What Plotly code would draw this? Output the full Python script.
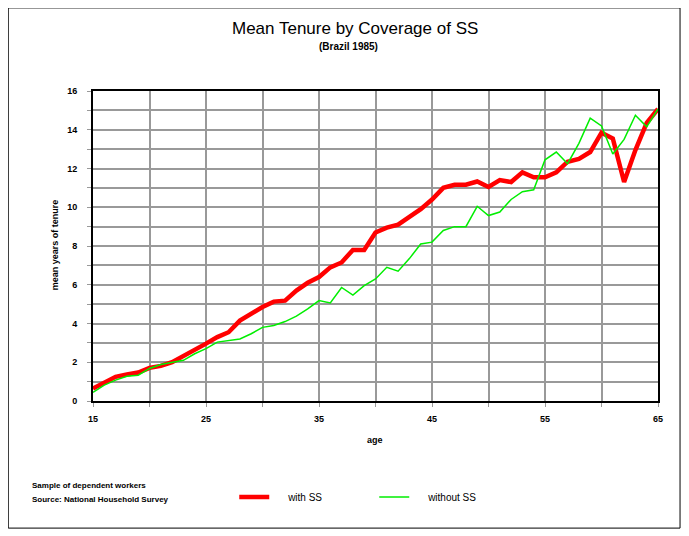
import plotly.graph_objects as go

ages = list(range(15, 66))
with_ss = [0.65, 0.96, 1.25, 1.37, 1.47, 1.71, 1.81, 2.0, 2.3, 2.6,
           2.96, 3.3, 3.55, 4.15, 4.5, 4.85, 5.13, 5.18, 5.7, 6.1,
           6.4, 6.9, 7.15, 7.8, 7.8, 8.7, 8.95, 9.1, 9.5, 9.9,
           10.4, 11.0, 11.16, 11.16, 11.33, 11.05, 11.4, 11.3, 11.8, 11.55,
           11.55, 11.8, 12.35, 12.5, 12.85, 13.85, 13.55, 11.3, 12.95, 14.35,
           15.07]
without_ss = [0.45, 0.82, 1.08, 1.28, 1.33, 1.68, 1.88, 1.98, 2.1, 2.44,
              2.7, 3.04, 3.13, 3.2, 3.47, 3.8, 3.9, 4.1, 4.38, 4.75,
              5.18, 5.06, 5.86, 5.47, 5.95, 6.3, 6.9, 6.7, 7.35, 8.1,
              8.2, 8.8, 9.0, 9.0, 10.05, 9.57, 9.75, 10.4, 10.8, 10.9,
              12.45, 12.85, 12.25, 13.3, 14.6, 14.2, 12.75, 13.5, 14.75, 14.15,
              15.07]

title_text = "Mean Tenure by Coverage of SS"
subtitle_text = "(Brazil 1985)"
x_title = "age"
y_title = "mean years of tenure"
note_lines = ["Sample of dependent workers", "Source: National Household Survey"]

FONT = "Liberation Sans, Arial, sans-serif"
NB = "\u00a0"

fig = go.Figure()
fig.add_trace(go.Scatter(x=ages, y=with_ss, mode="lines", name=NB * 5 + "with SS",
                         line=dict(color="#ff0000", width=4.5)))
fig.add_trace(go.Scatter(x=ages, y=without_ss, mode="lines", name=NB * 5 + "without SS",
                         line=dict(color="#00ee00", width=1.5)))

grid_col = "#999999"
fig.update_layout(
    width=689, height=536,
    margin=dict(l=85, r=39, t=83, b=143),
    paper_bgcolor="white", plot_bgcolor="white",
    font=dict(family=FONT, color="black"),
    showlegend=True,
    legend=dict(orientation="h", x=0.25, y=-0.31, xanchor="left", yanchor="middle",
                font=dict(size=10, family=FONT), entrywidth=95, entrywidthmode="pixels",
                bgcolor="rgba(0,0,0,0)"),
)

fig.update_xaxes(
    range=[15, 65], tick0=15, dtick=10,
    showgrid=True, gridcolor=grid_col, gridwidth=2,
    minor=dict(dtick=5, tick0=15, showgrid=True, gridcolor=grid_col, gridwidth=2,
               ticks="outside", ticklen=4, tickcolor=grid_col),
    ticks="outside", ticklen=4, tickcolor=grid_col, ticklabelstandoff=4,
    showline=True, linecolor="black", linewidth=2, mirror=True,
    zeroline=False,
    tickfont=dict(size=9, family=FONT, weight="bold"),
)
fig.update_yaxes(
    range=[0, 16], tick0=0, dtick=2,
    showgrid=True, gridcolor=grid_col, gridwidth=2,
    minor=dict(dtick=1, showgrid=True, gridcolor=grid_col, gridwidth=2,
               ticks="outside", ticklen=4, tickcolor=grid_col),
    ticks="outside", ticklen=4, tickcolor=grid_col, ticklabelstandoff=8,
    showline=True, linecolor="black", linewidth=2, mirror=True,
    zeroline=False,
    tickfont=dict(size=9, family=FONT, weight="bold"),
)

# titles
fig.add_annotation(text=title_text, xref="paper", yref="paper", x=0.464, y=1.203,
                   xanchor="center", yanchor="middle", showarrow=False,
                   font=dict(size=17, family=FONT))
fig.add_annotation(text=f"<b>{subtitle_text}</b>", xref="paper", yref="paper", x=0.453, y=1.145,
                   xanchor="center", yanchor="middle", showarrow=False,
                   font=dict(size=10, family=FONT))
fig.add_annotation(text=f"<b>{x_title}</b>", xref="paper", yref="paper", x=0.499, y=-0.126,
                   xanchor="center", yanchor="middle", showarrow=False,
                   font=dict(size=9, family=FONT))
fig.add_annotation(text=f"<b>{y_title}</b>", xref="paper", yref="paper", x=-0.067, y=0.503,
                   xanchor="center", yanchor="middle", showarrow=False, textangle=-90,
                   font=dict(size=9, family=FONT))

for i, line in enumerate(note_lines):
    fig.add_annotation(text=f"<b>{line}</b>", xref="paper", yref="paper",
                       x=-0.1115, y=-0.271 - i * 0.048, xanchor="left", yanchor="middle",
                       showarrow=False, font=dict(size=8, family=FONT))

# outer frame
fig.add_shape(type="rect", xref="paper", yref="paper",
              x0=-0.150, x1=1.039, y0=-0.41, y1=1.268,
              line=dict(color="black", width=1))

fig.write_html("out.html")
